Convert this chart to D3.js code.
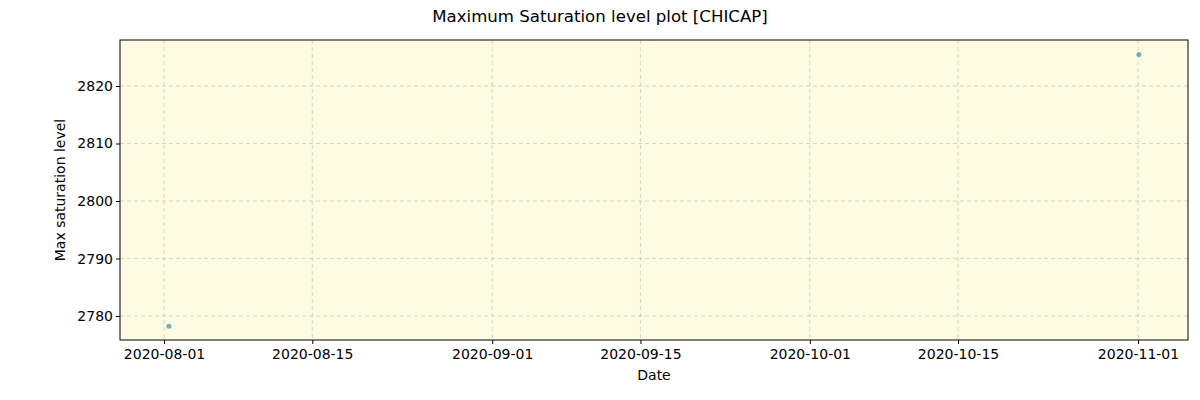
<!DOCTYPE html>
<html><head><meta charset="utf-8">
<script src="https://cdn.jsdelivr.net/npm/d3@7"></script>
<style>body{margin:0;background:#fff}text{font-family:"DejaVu Sans",sans-serif}</style>
</head><body><svg id="chart" width="1200" height="400"></svg>
<script>
var dates = ["2020-08-01T11:00", "2020-11-01T02:00"];
var values = [2778.2, 2825.5];
var xTicks = ["2020-08-01","2020-08-15","2020-09-01","2020-09-15","2020-10-01","2020-10-15","2020-11-01"];
var yTicks = [2780, 2790, 2800, 2810, 2820];

var svg = d3.select("#chart");
var M = {left: 120, right: 1188, top: 40, bottom: 340};
var parse = d3.isoParse;
var x = d3.scaleTime()
  .domain([new Date(2020, 6, 27, 20, 10), new Date(2020, 10, 5, 17, 20)])
  .range([M.left, M.right]);
var y = d3.scaleLinear().domain([2775.83, 2828]).range([M.bottom, M.top]);

svg.append("rect").attr("x", M.left).attr("y", M.top)
  .attr("width", M.right - M.left).attr("height", M.bottom - M.top).attr("fill", "#fdfbe2");

var xt = xTicks.map(function (d) { var p = d.split("-"); return new Date(+p[0], +p[1] - 1, +p[2]); });

svg.append("g").selectAll("line").data(xt).enter().append("line")
  .attr("x1", d => x(d)).attr("x2", d => x(d)).attr("y1", M.top).attr("y2", M.bottom)
  .attr("stroke", "#b0b0b0").attr("stroke-opacity", 0.5).attr("stroke-dasharray", "4,3");
svg.append("g").selectAll("line").data(yTicks).enter().append("line")
  .attr("x1", M.left).attr("x2", M.right).attr("y1", d => y(d)).attr("y2", d => y(d))
  .attr("stroke", "#b0b0b0").attr("stroke-opacity", 0.5).attr("stroke-dasharray", "4,3");

svg.append("g").attr("transform", "translate(0," + M.bottom + ")")
  .call(d3.axisBottom(x).tickValues(xt).tickFormat(d3.timeFormat("%Y-%m-%d")).tickSize(4).tickSizeOuter(0))
  .call(g => g.select(".domain").remove())
  .selectAll("text").attr("font-size", 14).attr("fill", "#000").attr("dy", "0.85em");
svg.append("g").attr("transform", "translate(" + M.left + ",0)")
  .call(d3.axisLeft(y).tickValues(yTicks).tickFormat(d3.format("d")).tickSize(4).tickSizeOuter(0))
  .call(g => g.select(".domain").remove())
  .selectAll("text").attr("font-size", 14).attr("fill", "#000");

svg.append("rect").attr("x", M.left).attr("y", M.top)
  .attr("width", M.right - M.left).attr("height", M.bottom - M.top)
  .attr("fill", "none").attr("stroke", "#000");

svg.append("g").selectAll("circle").data(dates).enter().append("circle")
  .attr("cx", d => x(parse(d))).attr("cy", (d, i) => y(values[i])).attr("r", 2.5)
  .attr("fill", "#1f77b4").attr("fill-opacity", 0.6);

svg.append("text").attr("x", 600).attr("y", 22).attr("text-anchor", "middle")
  .attr("font-size", 16.6).text("Maximum Saturation level plot [CHICAP]");
svg.append("text").attr("x", 654).attr("y", 380).attr("text-anchor", "middle")
  .attr("font-size", 14).text("Date");
svg.append("text").attr("transform", "translate(65,190) rotate(-90)").attr("text-anchor", "middle")
  .attr("font-size", 14).text("Max saturation level");
</script></body></html>
